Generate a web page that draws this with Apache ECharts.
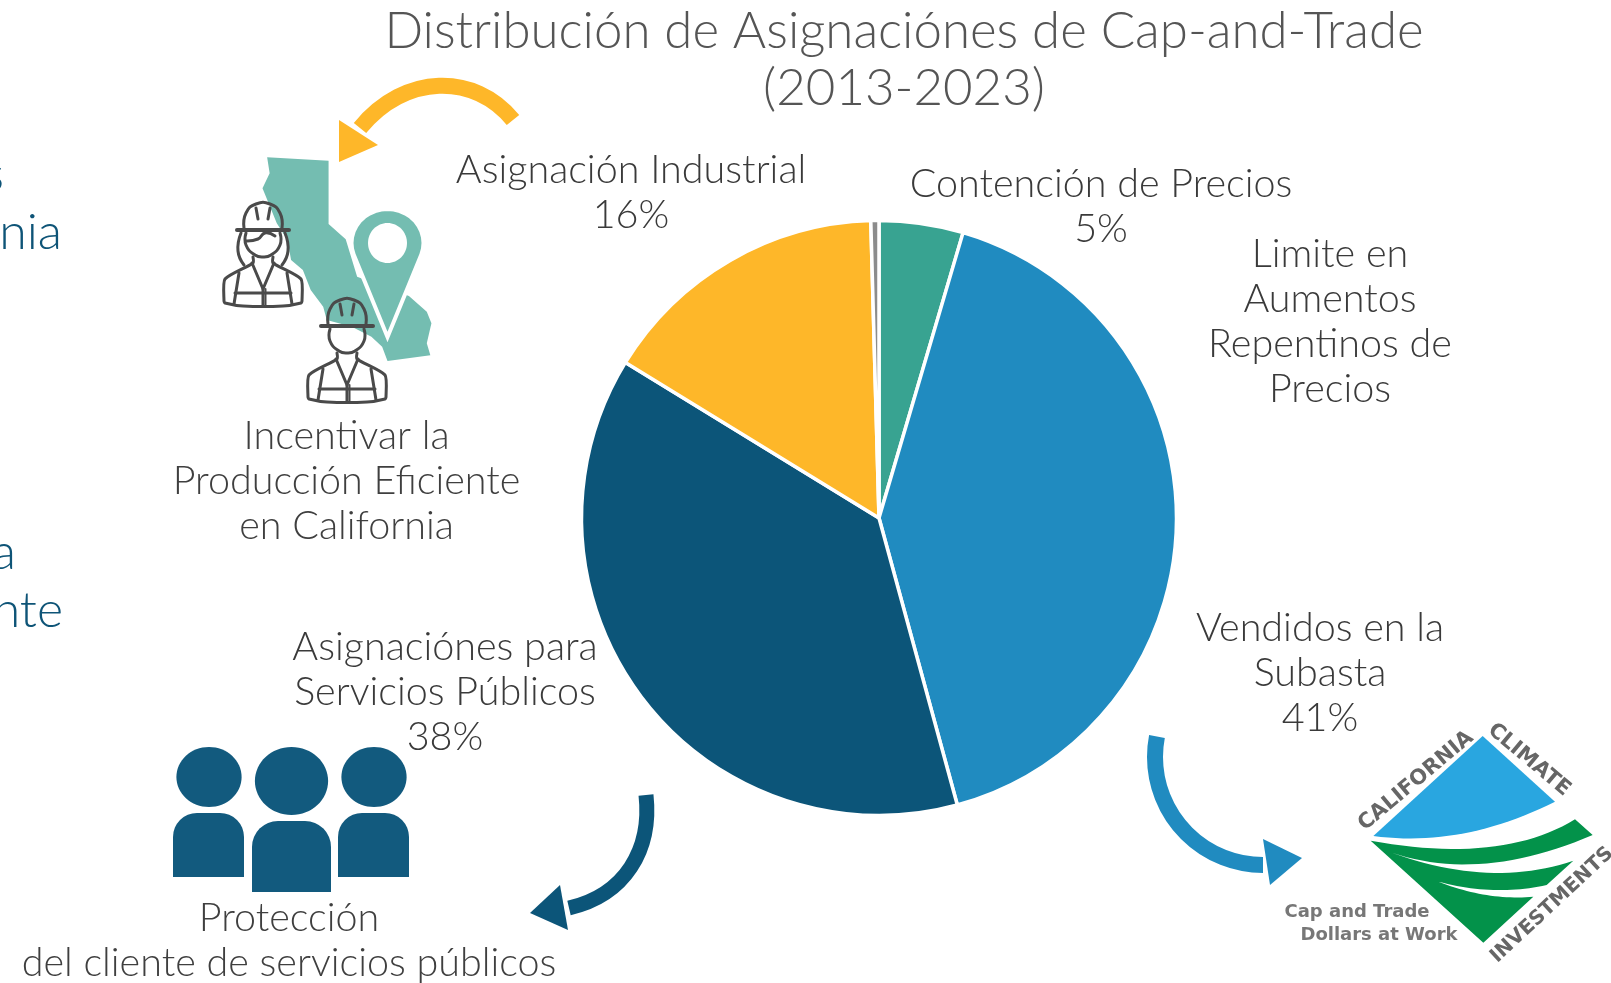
<!DOCTYPE html>
<html>
<head>
<meta charset="utf-8">
<title>Distribución de Asignaciónes de Cap-and-Trade</title>
<script src="https://cdn.jsdelivr.net/npm/echarts@6/dist/echarts.min.js"></script>
<style>
    html, body { margin: 0; padding: 0; background: #fff; overflow: hidden; }
    #main { width: 1611px; height: 983px; }
</style>
</head>
<body>
<div id="main"></div>
<script>
var sliceNames = ['Contención de Precios', 'Vendidos en la\nSubasta', 'Asignaciónes para\nServicios Públicos', 'Asignación Industrial', 'Limite en\nAumentos\nRepentinos de\nPrecios'];
var sliceValues = [4.56, 41.2, 38, 15.8, 0.44];
var sliceColors = ['#38a391', '#208bc0', '#0c5579', '#feb729', '#8c8c8c'];
var showPercent = [true, true, true, true, false];

var FONT = 'Lato, "Noto Sans", sans-serif';
var LOGO_FONT = '"DejaVu Sans", sans-serif';
var chart = echarts.init(document.getElementById('main'), null, { renderer: 'canvas' });

// label spots, by slice index
var labelSpots = [
    { x: 1101, y: 207 },
    { x: 1320, y: 673 },
    { x: 445, y: 692 },
    { x: 631, y: 193 },
    { x: 1330, y: 322 }
];

function fromTop(p) { return [p[0] / 2.8, 60 + p[1] / 3]; }
function fromLogo(p) { return [1120 + p[0] / 3, 700 + p[1] / 3]; }

function curve(p0, c, p1) {
    var pts = [];
    for (var i = 0; i <= 24; i++) {
        var t = i / 24, u = 1 - t;
        pts.push([u * u * p0[0] + 2 * u * t * c[0] + t * t * p1[0], u * u * p0[1] + 2 * u * t * c[1] + t * t * p1[1]]);
    }
    return pts;
}

function poly(points, color, extra) {
    var el = { type: 'polygon', shape: { points: points }, style: { fill: color } };
    if (extra) { el.style.stroke = extra.stroke; el.style.lineWidth = extra.lineWidth; }
    return el;
}

function stroke(points, color, width, smooth) {
    return {
        type: 'polyline',
        shape: { points: points, smooth: smooth || 0 },
        style: { stroke: color, lineWidth: width, fill: null, lineCap: 'round', lineJoin: 'round' }
    };
}

function label(text, x, y, size, color, opts) {
    opts = opts || {};
    return {
        type: 'text',
        x: x,
        y: y,
        rotation: opts.rotation || 0,
        style: {
            text: text,
            fill: color,
            font: (opts.weight || 300) + ' ' + size + 'px ' + (opts.family || FONT),
            align: opts.align || 'center',
            verticalAlign: 'middle',
            lineHeight: opts.lineHeight || 45
        }
    };
}

// one hard hat worker, cx/top = middle of the helmet top
function worker(cx, top, woman) {
    var c = '#4a4a4a';
    function p(x, y) { return [cx + x, top + y]; }
    var els = [
        stroke([p(-26, 27), p(26, 27)], c, 4),
        stroke([p(-19, 25), p(-17, 10), p(-7, 1), p(7, 1), p(17, 10), p(19, 25)], c, 3, 0.5),
        stroke([p(-7, 5), p(-5, 16)], c, 3),
        stroke([p(7, 5), p(5, 16)], c, 3),
        stroke([p(-17, 30), p(-17, 42), p(-8, 52), p(0, 54), p(8, 52), p(17, 42), p(17, 30)], c, 3, 0.5),
        stroke([p(-10, 54), p(-10, 60), p(-38, 76), p(-39, 98), p(-38, 100), p(-20, 103), p(20, 103), p(38, 100), p(39, 98), p(38, 76), p(10, 60), p(10, 54)], c, 3, 0.2),
        stroke([p(-11, 60), p(0, 86), p(11, 60)], c, 3),
        stroke([p(0, 86), p(0, 102)], c, 3),
        stroke([p(2.5, 86), p(2.5, 102)], c, 2),
        stroke([p(-24, 70), p(-29, 101)], c, 3),
        stroke([p(24, 70), p(29, 101)], c, 3),
        stroke([p(-28, 90), p(28, 90)], c, 3)
    ];
    if (woman) {
        els.push(stroke([p(-22, 30), p(-25, 48), p(-19, 62)], c, 3, 0.5));
        els.push(stroke([p(22, 30), p(25, 48), p(19, 62)], c, 3, 0.5));
        els.push(stroke([p(-17, 38), p(-5, 36), p(2, 30), p(12, 33)], c, 3, 0.5));
    }
    return els;
}

function buildGraphics() {
    var g = [];
    var ink = '#3f3f3f';

    // cut off text at the left edge
    g.push(label('s', 4, 175, 50, '#0e5477', { align: 'right' }));
    g.push(label('nia', 62, 233, 50, '#0e5477', { align: 'right' }));
    g.push(label('a', 16, 553, 50, '#0e5477', { align: 'right' }));
    g.push(label('nte', 63, 611, 50, '#0e5477', { align: 'right' }));

    // yellow arrow
    g.push({
        type: 'bezierCurve',
        shape: { x1: 513, y1: 120, cpx1: 475, cpy1: 73, cpx2: 405, cpy2: 73, x2: 360, y2: 128 },
        style: { stroke: '#feb729', lineWidth: 16, fill: null }
    });
    g.push(poly([[339, 120], [378, 145], [339, 162]], '#feb729'));

    // California
    var state = [[748, 292], [920, 302], [920, 492], [968, 538], [1000, 650], [1145, 708], [1195, 755], [1208, 790], [1195, 850], [1205, 886], [1085, 903], [1070, 860], [1040, 830], [985, 800], [915, 780], [905, 740], [870, 690], [848, 630], [815, 600], [805, 540], [775, 490], [735, 385], [755, 340]];
    g.push(poly(state.map(fromTop), '#74bdb1'));
    var pin = [];
    for (var a = 160; a <= 380; a += 10) {
        var r = a * Math.PI / 180;
        pin.push([387.5 + 36 * Math.cos(r), 243 + 34 * Math.sin(r)]);
    }
    pin.push([387.5, 337]);
    g.push(poly(pin, '#74bdb1', { stroke: '#fff', lineWidth: 4 }));
    g.push({ type: 'ellipse', shape: { cx: 387.5, cy: 243, rx: 19.5, ry: 20 }, style: { fill: '#fff' } });

    g = g.concat(worker(263, 203, true));
    g = g.concat(worker(347, 299, false));
    g.push(label('Incentivar la\nProducción Eficiente\nen California', 346.5, 481, 39.5, ink));

    // people
    var people = '#125a7e';
    g.push({ type: 'ellipse', shape: { cx: 209, cy: 777, rx: 32.6, ry: 30 }, style: { fill: people } });
    g.push({ type: 'ellipse', shape: { cx: 291.5, cy: 781, rx: 36.6, ry: 34 }, style: { fill: people } });
    g.push({ type: 'ellipse', shape: { cx: 374, cy: 777, rx: 32.6, ry: 30 }, style: { fill: people } });
    g.push({ type: 'rect', shape: { x: 173, y: 813, width: 71, height: 64, r: [24, 24, 0, 0] }, style: { fill: people } });
    g.push({ type: 'rect', shape: { x: 252, y: 821, width: 79, height: 71, r: [26, 26, 0, 0] }, style: { fill: people } });
    g.push({ type: 'rect', shape: { x: 338, y: 813, width: 71, height: 64, r: [24, 24, 0, 0] }, style: { fill: people } });
    g.push(label('Protección\ndel cliente de servicios públicos', 289, 941, 39.5, ink));

    // dark arrow
    g.push({
        type: 'bezierCurve',
        shape: { x1: 646, y1: 795, cpx1: 652, cpy1: 850, cpx2: 625, cpy2: 895, x2: 569, y2: 908 },
        style: { stroke: '#0c5579', lineWidth: 15, fill: null }
    });
    g.push(poly([[560, 885], [530, 913], [568, 930]], '#0c5579'));

    // blue arrow
    g.push({
        type: 'arc',
        shape: { cx: 1263, cy: 757, r: 108, startAngle: Math.PI / 2, endAngle: 190.9 * Math.PI / 180, clockwise: true },
        style: { stroke: '#208bc0', lineWidth: 16, fill: null }
    });
    g.push(poly([[1263, 839], [1302, 858], [1270, 885]], '#208bc0'));

    // logo
    var sky = [[1088, 108], [1305, 305]].concat(curve([1305, 305], [1028, 444], [760, 408]));
    g.push(poly(sky.map(fromLogo), '#29a6e0'));
    var green = curve([752, 422], [1142, 494], [1365, 358])
        .concat(curve([1418, 405], [1084, 549], [815, 458]))
        .concat(curve([815, 458], [1113, 566], [1360, 482]))
        .concat(curve([1280, 555], [1123, 590], [955, 545]))
        .concat(curve([955, 545], [1103, 603], [1240, 590]))
        .concat([[1090, 728]]);
    g.push(poly(green.map(fromLogo), '#03924a'));
    var grey = '#666666';
    g.push(label('CALIFORNIA', 1416, 781, 21, grey, { weight: 700, family: LOGO_FONT, rotation: 40 * Math.PI / 180 }));
    g.push(label('CLIMATE', 1529, 760, 21, grey, { weight: 700, family: LOGO_FONT, rotation: -40 * Math.PI / 180 }));
    g.push(label('INVESTMENTS', 1552, 905, 20, grey, { weight: 700, family: LOGO_FONT, rotation: 43 * Math.PI / 180 }));
    g.push(label('Cap and Trade', 1357, 912, 18, '#777777', { weight: 700, family: LOGO_FONT }));
    g.push(label('Dollars at Work', 1379, 935, 18, '#777777', { weight: 700, family: LOGO_FONT }));
    return g;
}

var pieData = [];
for (var i = 0; i < sliceNames.length; i++) {
    pieData.push({ name: sliceNames[i], value: sliceValues[i], itemStyle: { color: sliceColors[i] } });
}

chart.setOption({
    animation: false,
    backgroundColor: '#fff',
    title: {
        text: 'Distribución de Asignaciónes de Cap-and-Trade\n(2013-2023)',
        left: 899,
        top: -2,
        textAlign: 'center',
        textStyle: {
            fontFamily: FONT,
            fontWeight: 300,
            fontSize: 51,
            lineHeight: 57,
            color: '#555555'
        }
    },
    series: [{
        type: 'pie',
        center: [879, 518],
        radius: [0, 297.5],
        startAngle: 90,
        clockwise: true,
        avoidLabelOverlap: false,
        itemStyle: { borderColor: '#fff', borderWidth: 3.5 },
        label: {
            show: true,
            fontFamily: FONT,
            fontWeight: 300,
            fontSize: 39.5,
            lineHeight: 45,
            color: '#3a3a3a',
            align: 'center',
            verticalAlign: 'middle',
            formatter: function (p) {
                return showPercent[p.dataIndex] ? p.name + '\n' + Math.round(p.value) + '%' : p.name;
            }
        },
        labelLine: { show: false },
        labelLayout: function (p) {
            return { x: labelSpots[p.dataIndex].x, y: labelSpots[p.dataIndex].y, align: 'center', verticalAlign: 'middle' };
        },
        data: pieData
    }],
    graphic: { elements: buildGraphics() }
});
</script>
</body>
</html>
